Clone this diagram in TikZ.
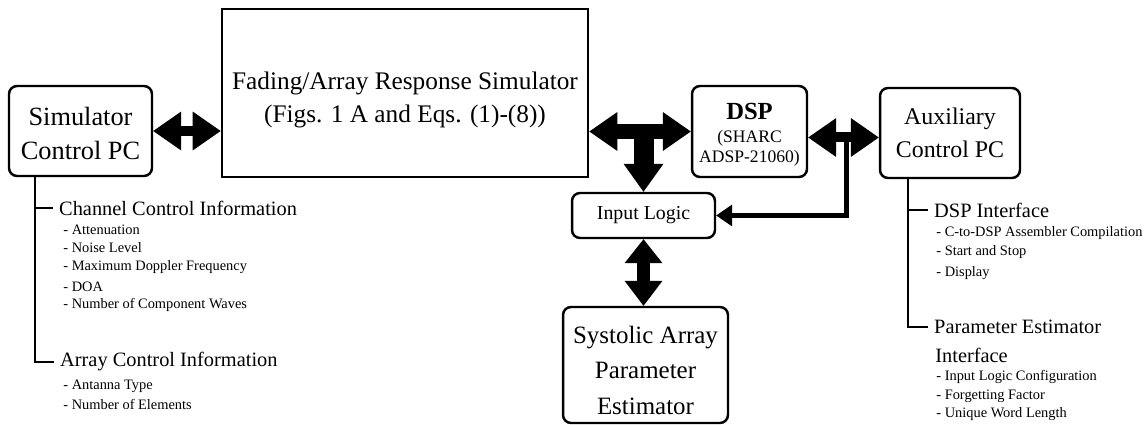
\documentclass[tikz,border=0pt]{standalone}
\usepackage{fontspec}
\setmainfont{Liberation Serif}
\usetikzlibrary{arrows.meta}

\tikzset{
  blk/.style={draw, line width=1.4pt, rounded corners=0.16cm, inner sep=0pt, align=center},
  bigtxt/.style={font=\fontsize{14.4}{18.8}\selectfont},
  head/.style={font=\fontsize{11.6}{15}\selectfont, anchor=west},
  item/.style={font=\fontsize{8.2}{10}\selectfont, anchor=west, inner sep=0pt},
  treeline/.style={line width=0.85pt},
  fatlink/.style={line width=0.2cm,
    {Triangle[length=0.56cm,width=0.78cm,line width=0pt]}-{Triangle[length=0.56cm,width=0.78cm,line width=0pt]}},
  teelink/.style={line width=0.3cm,
    {Triangle[length=0.56cm,width=0.78cm,line width=0pt]}-{Triangle[length=0.56cm,width=0.78cm,line width=0pt]}},
  stemlink/.style={line width=0.4cm, -{Triangle[length=0.56cm,width=0.8cm,line width=0pt]}},
  duallink/.style={line width=0.26cm,
    {Triangle[length=0.48cm,width=0.76cm,line width=0pt]}-{Triangle[length=0.5cm,width=0.76cm,line width=0pt]}},
  thinlink/.style={line width=0.1cm, -{Triangle[length=0.32cm,width=0.44cm,line width=0pt]}}
}

\begin{document}
\begin{tikzpicture}[x=0.02cm, y=-0.02cm]
		%%%%% START %%%%%
		\useasboundingbox (0,0) rectangle (1145,425);
		
		% blocks
		\node[blk, bigtxt, minimum width=2.86cm, minimum height=1.8cm, font=\fontsize{15}{19.3}\selectfont] (sim) at (80.5,131) {\rule{0pt}{13pt}Simulator\\Control PC};
		\node[blk, bigtxt, sharp corners, line width=1.6pt, minimum width=7.32cm, minimum height=3.36cm] (fad) at (405,93) {\rule{0pt}{18pt}Fading/Array Response Simulator\\(Figs. 1 A and Eqs. (1)-(8))};
		\node[blk, minimum width=2.3cm, minimum height=1.82cm, font=\fontsize{10}{11.4}\selectfont] (dsp) at (749.5,131.5) {{\bfseries\fontsize{14}{14}\selectfont\rule{0pt}{13pt}DSP}\\[1.2pt](SHARC\\ADSP-21060)};
		\node[blk, minimum width=2.8cm, minimum height=1.8cm, font=\fontsize{13.6}{18.8}\selectfont] (aux) at (950,133) {Auxiliary\\Control PC};
		\node[blk, minimum width=2.86cm, minimum height=0.9cm, font=\fontsize{11.3}{13}\selectfont] (inlog) at (643.5,215.5) {Input Logic};
		\node[blk, bigtxt, minimum width=3.3cm, minimum height=2.32cm, font=\fontsize{14.2}{20}\selectfont] (sys) at (645.5,365) {\rule{0pt}{16pt}Systolic Array\\Parameter\\Estimator};
		
		% fat arrows
		\draw[fatlink] (sim.east) -- (sim.east -| fad.west);
		\draw[teelink] (fad.east |- dsp.west) -- (dsp.west);
		\coordinate (tee) at (inlog.north |- dsp.west);
		\draw[stemlink] (tee) -- (inlog.north);
		\coordinate (dspout) at ([yshift=-0.12cm]dsp.east);
		\draw[fatlink] (dspout) -- (dspout -| aux.west);
		\coordinate (dtap) at ([xshift=0.76cm]dspout);
		\draw[thinlink] (dtap) |- (inlog.east);
		\draw[duallink] (inlog.south) -- (inlog.south |- sys.north);
		
		% simulator control PC tree
		\node[head] (chan) at (53,208) {Channel Control Information};
		\node[item] (att) at (63,230) {- Attenuation};
		\node[item] (noi) at (63,248) {- Noise Level};
		\node[item] (mdf) at (63,267) {- Maximum Doppler Frequency};
		\node[item] (doa) at (63,287) {- DOA};
		\node[item] (ncw) at (63,305) {- Number of Component Waves};
		\node[head] (arr) at (54,362) {Array Control Information};
		\node[item] (ant) at (63,386) {- Antanna Type};
		\node[item] (noe) at (63,404) {- Number of Elements};
		\coordinate (simtap) at ([xshift=0.54cm]sim.south west);
		\draw[treeline] (simtap) |- (chan.west);
		\draw[treeline] (simtap) |- (arr.west);
		
		% auxiliary control PC tree
		\node[head] (dspi) at (928,210) {DSP Interface};
		\node[item] (comp) at (936,233) {- C-to-DSP Assembler Compilation};
		\node[item] (sst) at (936,252) {- Start and Stop};
		\node[item] (disp) at (936,273) {- Display};
		\node[head] (pei) at (928,327) {Parameter Estimator};
		\node[head, inner sep=0pt] (pei2) at (935,355) {Interface};
		\node[item] (ilc) at (936,377) {- Input Logic Configuration};
		\node[item] (ffa) at (936,396) {- Forgetting Factor};
		\node[item] (uwl) at (936,414) {- Unique Word Length};
		\coordinate (auxtap) at ([xshift=0.58cm]aux.south west);
		\draw[treeline] (auxtap) |- (dspi.west);
		\draw[treeline] (auxtap) |- (pei.west);
		
		%%%%% END %%%%%
	\end{tikzpicture}
\end{document}
